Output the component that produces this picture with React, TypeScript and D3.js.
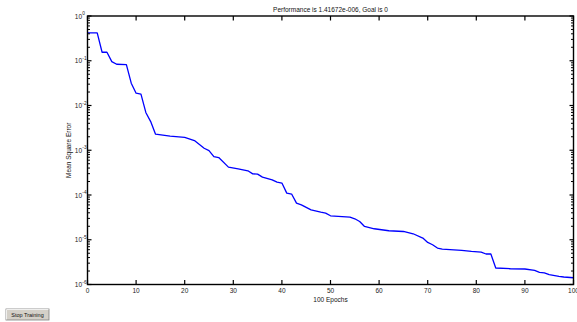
import * as d3 from "d3";

// training record
const epochs = [0, 2, 3, 4, 5, 6, 8, 9, 10, 11, 12, 13, 14, 17, 20, 22, 24, 25, 26, 27, 29, 31, 33, 34, 35, 36, 38, 39, 40, 41, 42, 43, 44, 46, 48, 49, 50, 54, 55, 56, 57, 59, 62, 65, 67, 69, 70, 71, 72, 73, 77, 79, 81, 82, 83, 84, 87, 90, 92, 93, 94, 95, 97, 98, 100];
const mse = [0.418, 0.418, 0.155, 0.155, 0.0955, 0.0835, 0.082, 0.0315, 0.0188, 0.0179, 0.007, 0.00437, 0.00229, 0.00207, 0.00194, 0.00165, 0.00111, 0.000985, 0.000723, 0.000687, 0.00042, 0.000385, 0.000347, 0.000297, 0.000293, 0.000251, 0.000218, 0.000194, 0.000185, 0.00011, 0.000105, 6.59e-5, 6.04e-5, 4.67e-5, 4.15e-5, 3.94e-5, 3.43e-5, 3.21e-5, 2.94e-5, 2.56e-5, 1.98e-5, 1.76e-5, 1.59e-5, 1.53e-5, 1.36e-5, 1.09e-5, 8.7e-6, 7.73e-6, 6.53e-6, 6.2e-6, 5.77e-6, 5.48e-6, 5.31e-6, 4.8e-6, 4.8e-6, 2.34e-6, 2.25e-6, 2.22e-6, 2.06e-6, 1.86e-6, 1.81e-6, 1.66e-6, 1.52e-6, 1.47e-6, 1.41672e-6];

const xTicks = [0, 10, 20, 30, 40, 50, 60, 70, 80, 90, 100];
const yExponents = [0, -1, -2, -3, -4, -5, -6];
const title = "Performance is 1.41672e-006, Goal is 0";
const xLabel = "100 Epochs";
const yLabel = "Mean Square Error";

const W = 577, H = 322;
const L = 87.5, R = 573.5, T = 16, B = 284.5;
const FONT = "'Liberation Sans', Arial, sans-serif";

export default function App() {
  const x = d3.scaleLinear().domain([0, 100]).range([L, R]);
  const y = d3.scaleLog().domain([1e-6, 1]).range([B, T]);
  const line = d3.line<number>().x((_, i) => x(epochs[i])).y((d) => y(d));

  // minor ticks 2..9 in each decade
  const minors: number[] = [];
  for (let e = -6; e < 0; e++) for (let k = 2; k <= 9; k++) minors.push(k * Math.pow(10, e));

  return (
    <svg width={W} height={H} style={{ position: "absolute", left: 0, top: 0, background: "#fff" }} fontFamily={FONT}>
      {/* data */}
      <path d={line(mse) ?? ""} fill="none" stroke="#0000ff" strokeWidth={1.3} strokeLinejoin="round" />

      {/* box */}
      <rect x={L} y={T} width={R - L} height={B - T} fill="none" stroke="#000" strokeWidth={1.4} />

      {/* x ticks bottom & top */}
      {xTicks.map((t) => (
        <g key={"x" + t}>
          <line x1={x(t)} x2={x(t)} y1={B} y2={B - 4.5} stroke="#000" strokeWidth={1.2} />
          <line x1={x(t)} x2={x(t)} y1={T} y2={T + 4.5} stroke="#000" strokeWidth={1.2} />
          <text x={x(t)} y={293} fontSize={6.5} textAnchor="middle" fill="#222">{t}</text>
        </g>
      ))}

      {/* y ticks left & right */}
      {yExponents.map((e) => {
        const yy = y(Math.pow(10, e));
        return (
          <g key={"y" + e}>
            <line x1={L} x2={L + 4} y1={yy} y2={yy} stroke="#000" strokeWidth={1.2} />
            <line x1={R} x2={R - 4} y1={yy} y2={yy} stroke="#000" strokeWidth={1.2} />
            <text x={82} y={yy + 2.5} fontSize={6.5} textAnchor="end" fill="#222">10</text>
            <text x={82.3} y={yy - 0.8} fontSize={4.8} fill="#222">{e}</text>
          </g>
        );
      })}
      {minors.map((m, i) => (
        <g key={"m" + i}>
          <line x1={L} x2={L + 2.5} y1={y(m)} y2={y(m)} stroke="#000" strokeWidth={1} />
          <line x1={R} x2={R - 2.5} y1={y(m)} y2={y(m)} stroke="#000" strokeWidth={1} />
        </g>
      ))}

      {/* labels */}
      <text x={(L + R) / 2} y={11.5} fontSize={6.5} textAnchor="middle" fill="#111">{title}</text>
      <text x={(L + R) / 2} y={301.5} fontSize={6.5} textAnchor="middle" fill="#111">{xLabel}</text>
      <text transform={`translate(71,${(T + B) / 2}) rotate(-90)`} fontSize={6.5} textAnchor="middle" fill="#111">{yLabel}</text>

      {/* Stop Training button */}
      <rect x={6} y={309} width={43} height={11} fill="#d4d0c8" stroke="#808080" strokeWidth={0.8} />
      <line x1={6.5} x2={48.5} y1={309.5} y2={309.5} stroke="#fff" strokeWidth={0.8} />
      <line x1={6.5} x2={6.5} y1={309.5} y2={319.5} stroke="#fff" strokeWidth={0.8} />
      <text x={27.5} y={317} fontSize={5.5} textAnchor="middle" fill="#111">Stop Training</text>
    </svg>
  );
}
